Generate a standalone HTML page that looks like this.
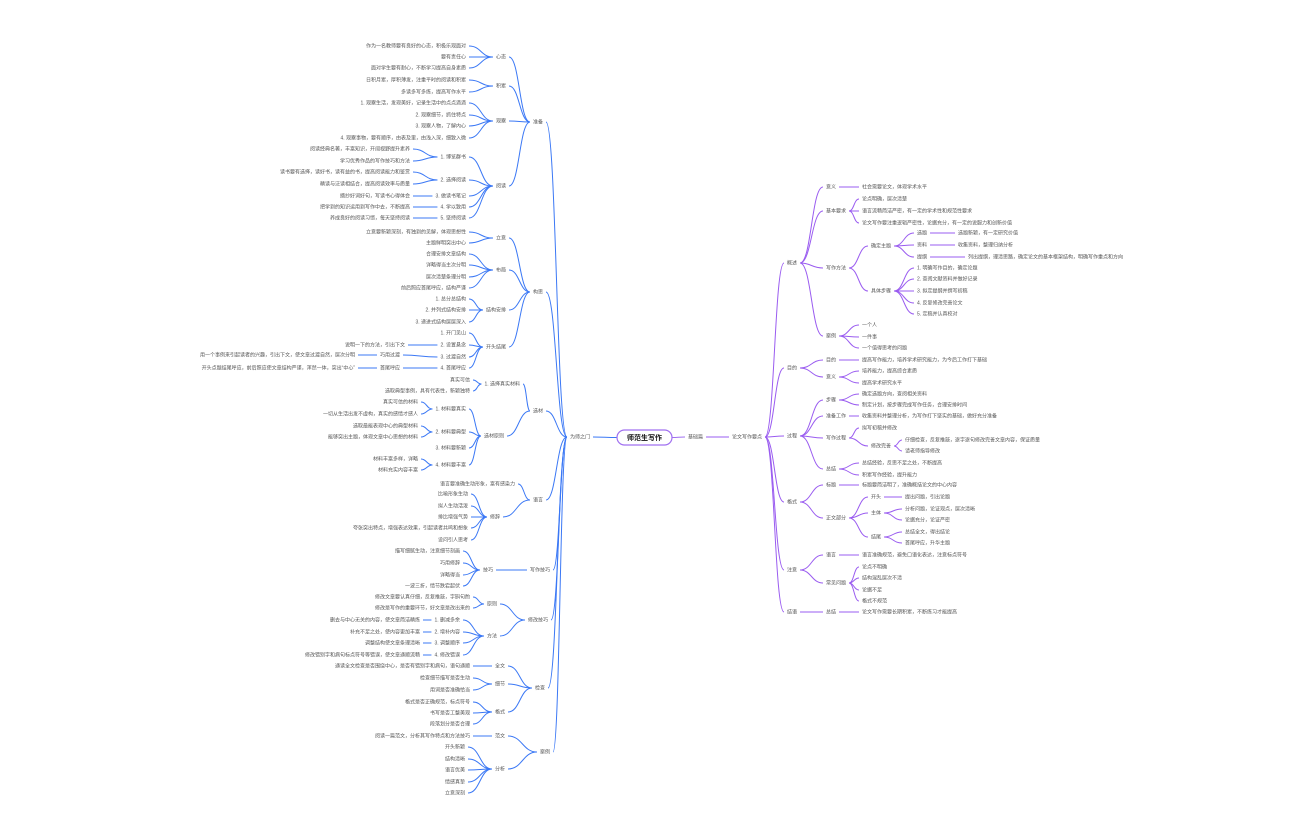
<!DOCTYPE html>
<html><head><meta charset="utf-8">
<style>
html,body{margin:0;padding:0;background:#fff;width:1296px;height:840px;overflow:hidden}
svg text{font-family:"Liberation Sans","Noto Sans CJK SC",sans-serif;font-size:5px;fill:#555;dominant-baseline:middle}
#L text{text-anchor:end}
</style></head><body>
<svg id="s" width="1296" height="840" xmlns="http://www.w3.org/2000/svg">
<g id="lines"></g>
<rect x="617" y="430" width="55" height="15" rx="7.5" fill="#fff" stroke="#a070f0" stroke-width="1.2"/>
<text x="644.5" y="438" style="font-size:7px;font-weight:bold;fill:#111;text-anchor:middle">师范生写作</text>

<g id="R"><text x="688" y="437">基础篇</text>
<g><text x="732" y="437">论文写作要点</text>
 <g><text x="787" y="263">概述</text>
  <g><text x="826" y="187">意义</text><g><text x="862" y="187">社会需要论文，体现学术水平</text></g></g>
  <g><text x="826" y="211">基本要求</text>
   <g><text x="862" y="199">论点明确，层次清楚</text></g>
   <g><text x="862" y="211">语言流畅简洁严密，有一定的学术性和规范性要求</text></g>
   <g><text x="862" y="223">论文写作要注重逻辑严密性，论据充分，有一定的说服力和创新价值</text></g></g>
  <g><text x="826" y="268">写作方法</text>
   <g><text x="871" y="246">确定主题</text>
    <g><text x="917" y="233">选题</text><g><text x="958" y="233">选题新颖，有一定研究价值</text></g></g>
    <g><text x="917" y="245">资料</text><g><text x="958" y="245">收集资料，整理归纳分析</text></g></g>
    <g><text x="917" y="257">提纲</text><g><text x="968" y="257">列出提纲，理清思路，确定论文的基本框架结构，明确写作重点和方向</text></g></g></g>
   <g><text x="871" y="291">具体步骤</text>
    <g><text x="917" y="268">1. 明确写作目的，确定论题</text></g>
    <g><text x="917" y="279">2. 查阅文献资料并做好记录</text></g>
    <g><text x="917" y="291">3. 拟定提纲并撰写初稿</text></g>
    <g><text x="917" y="303">4. 反复修改完善论文</text></g>
    <g><text x="917" y="314">5. 定稿并认真校对</text></g></g></g>
  <g><text x="826" y="336">案例</text>
   <g><text x="862" y="325">一个人</text></g><g><text x="862" y="337">一件事</text></g><g><text x="862" y="348">一个值得思考的问题</text></g></g>
 </g>
 <g><text x="787" y="368">目的</text>
  <g><text x="826" y="360">目的</text><g><text x="862" y="360">提高写作能力，培养学术研究能力，为今后工作打下基础</text></g></g>
  <g><text x="826" y="377">意义</text><g><text x="862" y="371">培养能力，提高综合素质</text></g><g><text x="862" y="383">提高学术研究水平</text></g></g>
 </g>
 <g><text x="787" y="436">过程</text>
  <g><text x="826" y="400">步骤</text><g><text x="862" y="394">确定选题方向，查阅相关资料</text></g><g><text x="862" y="405">制定计划，按步骤完成写作任务，合理安排时间</text></g></g>
  <g><text x="826" y="416">准备工作</text><g><text x="862" y="416">收集资料并整理分析，为写作打下坚实的基础，做好充分准备</text></g></g>
  <g><text x="826" y="438">写作过程</text><g><text x="862" y="428">拟写初稿并修改</text></g>
   <g><text x="871" y="446">修改完善</text><g><text x="905" y="440">仔细检查，反复推敲，逐字逐句修改完善文章内容，保证质量</text></g><g><text x="905" y="451">请老师指导修改</text></g></g></g>
  <g><text x="826" y="469">总结</text><g><text x="862" y="463">总结经验，反思不足之处，不断提高</text></g><g><text x="862" y="475">积累写作经验，提升能力</text></g></g>
 </g>
 <g><text x="787" y="502">格式</text>
  <g><text x="826" y="485">标题</text><g><text x="862" y="485">标题要简洁明了，准确概括论文的中心内容</text></g></g>
  <g><text x="826" y="518">正文部分</text>
   <g><text x="871" y="497">开头</text><g><text x="905" y="497">提出问题，引出论题</text></g></g>
   <g><text x="871" y="513">主体</text><g><text x="905" y="509">分析问题，论证观点，层次清晰</text></g><g><text x="905" y="520">论据充分，论证严密</text></g></g>
   <g><text x="871" y="537">结尾</text><g><text x="905" y="532">总结全文，得出结论</text></g><g><text x="905" y="543">首尾呼应，升华主题</text></g></g></g>
 </g>
 <g><text x="787" y="570">注意</text>
  <g><text x="826" y="555">语言</text><g><text x="862" y="555">语言准确规范，避免口语化表达，注意标点符号</text></g></g>
  <g><text x="826" y="583">常见问题</text><g><text x="862" y="567">论点不明确</text></g><g><text x="862" y="578">结构混乱层次不清</text></g><g><text x="862" y="590">论据不足</text></g><g><text x="862" y="601">格式不规范</text></g></g>
 </g>
 <g><text x="787" y="612">结语</text>
  <g><text x="826" y="612">总结</text><g><text x="862" y="612">论文写作需要长期积累，不断练习才能提高</text></g></g>
 </g>
</g></g>

<g id="L"><text x="590" y="437">为师之门</text>
 <g><text x="543" y="122">准备</text>
  <g><text x="506" y="57">心态</text><g><text x="466" y="46">作为一名教师要有良好的心态，积极乐观面对</text></g><g><text x="466" y="57">要有责任心</text></g><g><text x="466" y="68">面对学生要有耐心，不断学习提高自身素质</text></g></g>
  <g><text x="506" y="86">积累</text><g><text x="466" y="80">日积月累，厚积薄发，注重平时的阅读和积累</text></g><g><text x="466" y="92">多读多写多练，提高写作水平</text></g></g>
  <g><text x="506" y="121">观察</text><g><text x="466" y="103">1. 观察生活，发现美好，记录生活中的点点滴滴</text></g><g><text x="466" y="115">2. 观察细节，抓住特点</text></g><g><text x="466" y="126">3. 观察人物，了解内心</text></g><g><text x="466" y="138">4. 观察事物，要有顺序，由表及里，由浅入深，细致入微</text></g></g>
  <g><text x="506" y="186">阅读</text>
   <g><text x="466" y="157">1. 博览群书</text><g><text x="410" y="149">阅读经典名著，丰富知识，开阔视野提升素养</text></g><g><text x="410" y="161">学习优秀作品的写作技巧和方法</text></g></g>
   <g><text x="466" y="180">2. 选择阅读</text><g><text x="410" y="172">读书要有选择，读好书，读有益的书，提高阅读能力和鉴赏</text></g><g><text x="410" y="184">精读与泛读相结合，提高阅读效率与质量</text></g></g>
   <g><text x="466" y="196">3. 做读书笔记</text><g><text x="410" y="196">摘抄好词好句，写读书心得体会</text></g></g>
   <g><text x="466" y="207">4. 学以致用</text><g><text x="410" y="207">把学到的知识运用到写作中去，不断提高</text></g></g>
   <g><text x="466" y="218">5. 坚持阅读</text><g><text x="410" y="218">养成良好的阅读习惯，每天坚持阅读</text></g></g></g>
 </g>
 <g><text x="543" y="292">构思</text>
  <g><text x="506" y="238">立意</text><g><text x="466" y="232">立意要新颖深刻，有独到的见解，体现思想性</text></g><g><text x="466" y="243">主题鲜明突出中心</text></g></g>
  <g><text x="506" y="270">布局</text><g><text x="466" y="254">合理安排文章结构</text></g><g><text x="466" y="265">详略得当主次分明</text></g><g><text x="466" y="277">层次清楚条理分明</text></g><g><text x="466" y="288">前后照应首尾呼应，结构严谨</text></g></g>
  <g><text x="506" y="310">结构安排</text><g><text x="466" y="299">1. 总分总结构</text></g><g><text x="466" y="310">2. 并列式结构安排</text></g><g><text x="466" y="322">3. 递进式结构层层深入</text></g></g>
  <g><text x="506" y="347">开头结尾</text>
   <g><text x="466" y="333">1. 开门见山</text></g>
   <g><text x="466" y="345">2. 设置悬念</text><g><text x="405" y="345">说明一下的方法，引出下文</text></g></g>
   <g><text x="466" y="357">3. 过渡自然</text><g><text x="400" y="355">巧用过渡</text><g><text x="355" y="355">用一个事例来引起读者的兴趣，引出下文，使文章过渡自然，层次分明</text></g></g></g>
   <g><text x="466" y="368">4. 首尾呼应</text><g><text x="400" y="368">首尾呼应</text><g><text x="355" y="368">开头点题结尾呼应，前后照应使文章结构严谨，浑然一体，突出“中心”</text></g></g></g></g>
 </g>
 <g><text x="543" y="411">选材</text>
  <g><text x="520" y="384">1. 选择真实材料</text><g><text x="470" y="380">真实可信</text></g><g><text x="470" y="391">选取典型事例，具有代表性，新颖独特</text></g></g>
  <g><text x="504" y="436">选材原则</text>
   <g><text x="466" y="409">1. 材料要真实</text><g><text x="418" y="402">真实可信的材料</text></g><g><text x="418" y="414">一切从生活出发不虚构，真实的感情才感人</text></g></g>
   <g><text x="466" y="432">2. 材料要典型</text><g><text x="418" y="426">选取最能表现中心的典型材料</text></g><g><text x="418" y="437">能够突出主题，体现文章中心思想的材料</text></g></g>
   <g><text x="466" y="448">3. 材料要新颖</text></g>
   <g><text x="466" y="465">4. 材料要丰富</text><g><text x="418" y="459">材料丰富多样，详略</text></g><g><text x="418" y="470">材料充实内容丰富</text></g></g></g>
 </g>
 <g><text x="543" y="500">语言</text>
  <g><text x="515" y="484">语言要准确生动形象，富有感染力</text></g>
  <g><text x="500" y="517">修辞</text><g><text x="468" y="494">比喻形象生动</text></g><g><text x="468" y="506">拟人生动活泼</text></g><g><text x="468" y="517">排比增强气势</text></g><g><text x="468" y="528">夸张突出特点，增强表达效果，引起读者共鸣和想象</text></g><g><text x="468" y="540">设问引人思考</text></g></g>
 </g>
 <g><text x="550" y="570">写作技巧</text>
  <g><text x="493" y="570">技巧</text><g><text x="460" y="551">描写细腻生动，注意细节刻画</text></g><g><text x="460" y="563">巧用修辞</text></g><g><text x="460" y="575">详略得当</text></g><g><text x="460" y="586">一波三折，情节跌宕起伏</text></g></g>
 </g>
 <g><text x="548" y="620">修改技巧</text>
  <g><text x="497" y="604">原则</text><g><text x="470" y="597">修改文章要认真仔细，反复推敲，字斟句酌</text></g><g><text x="470" y="608">修改是写作的重要环节，好文章是改出来的</text></g></g>
  <g><text x="497" y="636">方法</text>
   <g><text x="460" y="620">1. 删减多余</text><g><text x="420" y="620">删去与中心无关的内容，使文章简洁精炼</text></g></g>
   <g><text x="460" y="632">2. 增补内容</text><g><text x="420" y="632">补充不足之处，使内容更加丰富</text></g></g>
   <g><text x="460" y="643">3. 调整顺序</text><g><text x="420" y="643">调整结构使文章条理清晰</text></g></g>
   <g><text x="460" y="655">4. 修改错误</text><g><text x="420" y="655">修改错别字和病句标点符号等错误，使文章通顺流畅</text></g></g></g>
 </g>
 <g><text x="545" y="688">检查</text>
  <g><text x="505" y="666">全文</text><g><text x="470" y="666">通读全文检查是否围绕中心，是否有错别字和病句，语句通顺</text></g></g>
  <g><text x="505" y="684">细节</text><g><text x="470" y="678">检查细节描写是否生动</text></g><g><text x="470" y="690">用词是否准确恰当</text></g></g>
  <g><text x="505" y="712">格式</text><g><text x="470" y="702">格式是否正确规范，标点符号</text></g><g><text x="470" y="713">书写是否工整美观</text></g><g><text x="470" y="724">段落划分是否合理</text></g></g>
 </g>
 <g><text x="550" y="752">案例</text>
  <g><text x="505" y="736">范文</text><g><text x="470" y="736">阅读一篇范文，分析其写作特点和方法技巧</text></g></g>
  <g><text x="505" y="769">分析</text><g><text x="465" y="747">开头新颖</text></g><g><text x="465" y="759">结构清晰</text></g><g><text x="465" y="770">语言优美</text></g><g><text x="465" y="782">情感真挚</text></g><g><text x="465" y="793">立意深刻</text></g></g>
 </g>
</g>
</svg>
<script>
(function(){
var NS="http://www.w3.org/2000/svg",lines=document.getElementById("lines");
function line(x1,y1,x2,y2,c){var p=document.createElementNS(NS,"path");var m=(x1+x2)/2;
p.setAttribute("d","M"+x1+","+y1+" C"+m+","+y1+" "+m+","+y2+" "+x2+","+y2);
p.setAttribute("fill","none");p.setAttribute("stroke",c);p.setAttribute("stroke-width","1");lines.appendChild(p);}
function txt(g){for(var i=0;i<g.children.length;i++)if(g.children[i].tagName=="text")return g.children[i];}
function walk(g,side,c){var t=txt(g),bb=t.getBBox(),py=+t.getAttribute("y");
for(var i=0;i<g.children.length;i++){var ch=g.children[i];if(ch.tagName!="g")continue;
var ct=txt(ch),cx=+ct.getAttribute("x"),cy=+ct.getAttribute("y");
if(side>0)line(bb.x+bb.width+3,py,cx-3,cy,c);else line(bb.x-3,py,cx+3,cy,c);
walk(ch,side,c);}}
var R=document.getElementById("R"),L=document.getElementById("L");
line(672,437.5,685,437,"#a070f0");line(617,437.5,593,437,"#3b78f5");
walk(R,1,"#9a5cf0");walk(L,-1,"#3b78f5");
})();
</script>
</body></html>
